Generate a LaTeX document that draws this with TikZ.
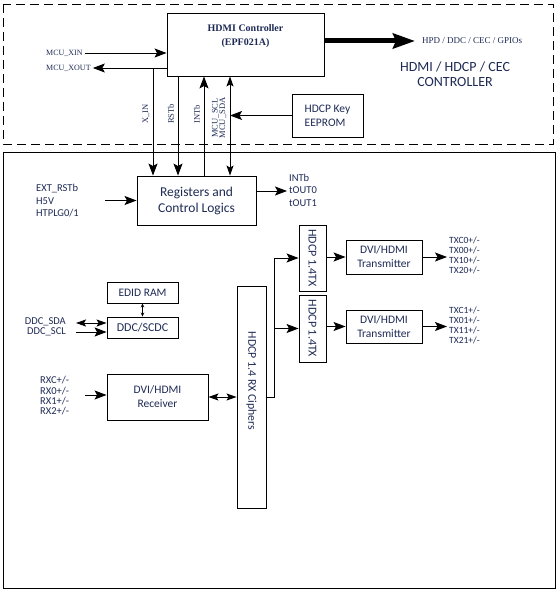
\documentclass[tikz,border=0pt]{standalone}
\usepackage{fontspec}
\setmainfont{Liberation Serif}
\setsansfont{Carlito}
\usepackage{xcolor}
\usepackage{tikz}
\usetikzlibrary{arrows.meta, positioning}
\definecolor{labelnavy}{RGB}{30,42,85}

\begin{document}
\begin{tikzpicture}[x=1pt, y=-1pt,
  blk/.style={draw, line width=0.9pt, inner sep=0pt, align=center, text=labelnavy,
    font=\sffamily\fontsize{11.5}{14}\selectfont},
  lbl/.style={inner sep=2pt, align=left, text=labelnavy, font=\sffamily\fontsize{10.5}{12.5}\selectfont},
  slbl/.style={inner sep=2pt, text=labelnavy, font=\fontsize{8}{9}\selectfont},
  rlbl/.style={inner sep=1pt, rotate=90, align=center, text=labelnavy, font=\fontsize{8.5}{7.5}\selectfont},
  vtxt/.style={rotate=-90, text=labelnavy, font=\sffamily\fontsize{12}{14}\selectfont},
  wire/.style={line width=0.9pt},
  arr/.style={line width=0.9pt, -{Stealth[length=12pt,width=9pt,inset=2.5pt]}},
  darr/.style={line width=0.9pt, {Stealth[length=10pt,width=7pt,inset=2pt]}-{Stealth[length=10pt,width=7pt,inset=2pt]}}]
\useasboundingbox (0,0) rectangle (559,593);

% frames
\draw[wire, dash pattern=on 9pt off 5pt] (3,4) rectangle (553,144);
\draw[wire] (3,152) rectangle (555,588);

% controller part
\node[blk, minimum width=157pt, minimum height=63pt] (ctrl) at (245.5,44.5) {};
\node[align=center, text=labelnavy, font=\bfseries\fontsize{10}{14}\selectfont] (ctrlname) at (245.5,36) {HDMI Controller\\(EPF021A)};
\node[slbl, anchor=west, font=\fontsize{9}{10}\selectfont] (hpd) at (420,41) {HPD / DDC / CEC / GPIOs};
\node[align=center, text=labelnavy, font=\sffamily\fontsize{14}{15}\selectfont] (title) at (455,74) {HDMI / HDCP / CEC\\CONTROLLER};
\node[slbl, anchor=west] (xin) at (44,53) {MCU\_XIN};
\node[slbl, anchor=west] (xout) at (44,68) {MCU\_XOUT};
\node[blk, minimum width=71pt, minimum height=43pt, align=left] (eeprom) at (327.5,115.5) {HDCP Key\\EEPROM};

\node[rlbl] (xinlbl) at (146,114) {X\_IN};
\node[rlbl] (rstlbl) at (171,114) {RSTb};
\node[rlbl] (intlbl) at (197,114) {INTb};
\node[rlbl] (mculbl) at (219,118) {MCU\_SCL\\MCU\_SDA};

% registers
\node[blk, minimum width=119pt, minimum height=49pt, font=\sffamily\fontsize{13.5}{16}\selectfont] (regs) at (196.5,200.5) {Registers and\\Control Logics};
\node[lbl, anchor=west] (extin) at (34,201) {EXT\_RSTb\\H5V\\HTPLG0/1};
\node[lbl, anchor=west] (outs) at (287,190) {INTb\\tOUT0\\tOUT1};

% receive side
\node[blk, minimum width=71pt, minimum height=21pt] (edid) at (142.5,292.5) {EDID RAM};
\node[blk, minimum width=71pt, minimum height=21pt, font=\sffamily\fontsize{12}{14}\selectfont] (ddc) at (142.5,327.5) {DDC/SCDC};
\node[lbl, anchor=east, align=right, font=\sffamily\fontsize{10.5}{10}\selectfont] (ddclbl) at (68,327) {DDC\_SDA\\DDC\_SCL};
\node[blk, minimum width=101pt, minimum height=46pt] (rcv) at (157.5,397) {DVI/HDMI\\Receiver};
\node[lbl, anchor=west, font=\sffamily\fontsize{10.5}{10.3}\selectfont] (rxlbl) at (38,396) {RXC+/-\\RX0+/-\\RX1+/-\\RX2+/-};
\node[blk, minimum width=29pt, minimum height=222pt] (rxc) at (251.5,397) {};
\node[vtxt, font=\sffamily\fontsize{11.8}{14}\selectfont] (rxctxt) at (251.5,381) {HDCP 1.4 RX Ciphers};

% transmit side
\node[blk, minimum width=27pt, minimum height=66pt] (hdcptxa) at (312.5,258) {};
\node[vtxt] (hdcptxatxt) at (hdcptxa) {HDCP 1.4TX};
\node[blk, minimum width=27pt, minimum height=67pt] (hdcptxb) at (312.5,328.5) {};
\node[vtxt] (hdcptxbtxt) at (hdcptxb) {HDCP 1.4TX};
\node[blk, minimum width=76pt, minimum height=34pt] (dvia) at (384,257) {DVI/HDMI\\Transmitter};
\node[blk, minimum width=76pt, minimum height=33pt] (dvib) at (384,326.5) {DVI/HDMI\\Transmitter};
\node[lbl, anchor=west, font=\sffamily\fontsize{9.5}{10}\selectfont] (txa) at (447,255) {TXC0+/-\\TX00+/-\\TX10+/-\\TX20+/-};
\node[lbl, anchor=west, font=\sffamily\fontsize{9.5}{10}\selectfont] (txb) at (447,325.5) {TXC1+/-\\TX01+/-\\TX11+/-\\TX21+/-};

% bus columns
\coordinate (xinbus) at (153,68);
\coordinate (rstbus) at (178,0);
\coordinate (intbus) at (204,0);
\coordinate (sdabus) at (230,0);
\coordinate (extend) at (105,0);
\coordinate (ddcend) at (76,0);
\coordinate (rxend) at (85,0);
\coordinate (split) at (274,0);

% connectors, top
\draw[line width=5pt, -{Stealth[length=22pt,width=15pt,inset=3pt]}, shorten >=5pt] ([yshift=3.5pt]ctrl.east) -- (hpd.west);
\draw[arr] (xin.east) -- (xin.east -| ctrl.west);
\draw[arr] (xout.east -| ctrl.west) -- (xout.east);
\draw[arr] (xinbus) -- (xinbus |- regs.north);
\draw[arr] (rstbus |- ctrl.south) -- (rstbus |- regs.north);
\draw[arr] (intbus |- regs.north) -- (intbus |- ctrl.south);
\draw[darr] (sdabus |- ctrl.south) -- (sdabus |- regs.north);
\draw[arr] (eeprom.west) -- (eeprom.west -| sdabus);

% connectors, registers
\draw[arr] (regs.west -| extend) -- (regs.west);
\draw[arr] ([yshift=9.5pt]regs.east) -- ([yshift=9.5pt]regs.east -| outs.west);

% connectors, receive side
\draw[line width=0.7pt, {Stealth[length=4pt,width=3.5pt]}-{Stealth[length=4pt,width=3.5pt]}] (edid.south) -- (ddc.north);
\draw[darr] ([yshift=4.5pt]ddc.west -| ddcend) -- ([yshift=4.5pt]ddc.west);
\draw[arr] ([yshift=-4.5pt]ddc.west -| ddcend) -- ([yshift=-4.5pt]ddc.west);
\draw[arr] ([yshift=2pt]rcv.west -| rxend) -- ([yshift=2pt]rcv.west);
\draw[darr] (rcv.east) -- (rxc.west);

% connectors, transmit side
\draw[arr] (rxc.east) -- (rxc.east -| split) -- (split |- hdcptxa.west) -- (hdcptxa.west);
\draw[arr] (split |- hdcptxb.west) -- (hdcptxb.west);
\draw[arr] (hdcptxa.east |- dvia.west) -- (dvia.west);
\draw[arr] (hdcptxb.east |- dvib.west) -- (dvib.west);
\draw[arr] (dvia.east) -- (dvia.east -| txa.west);
\draw[arr] (dvib.east) -- (dvib.east -| txb.west);
\end{tikzpicture}
\end{document}
